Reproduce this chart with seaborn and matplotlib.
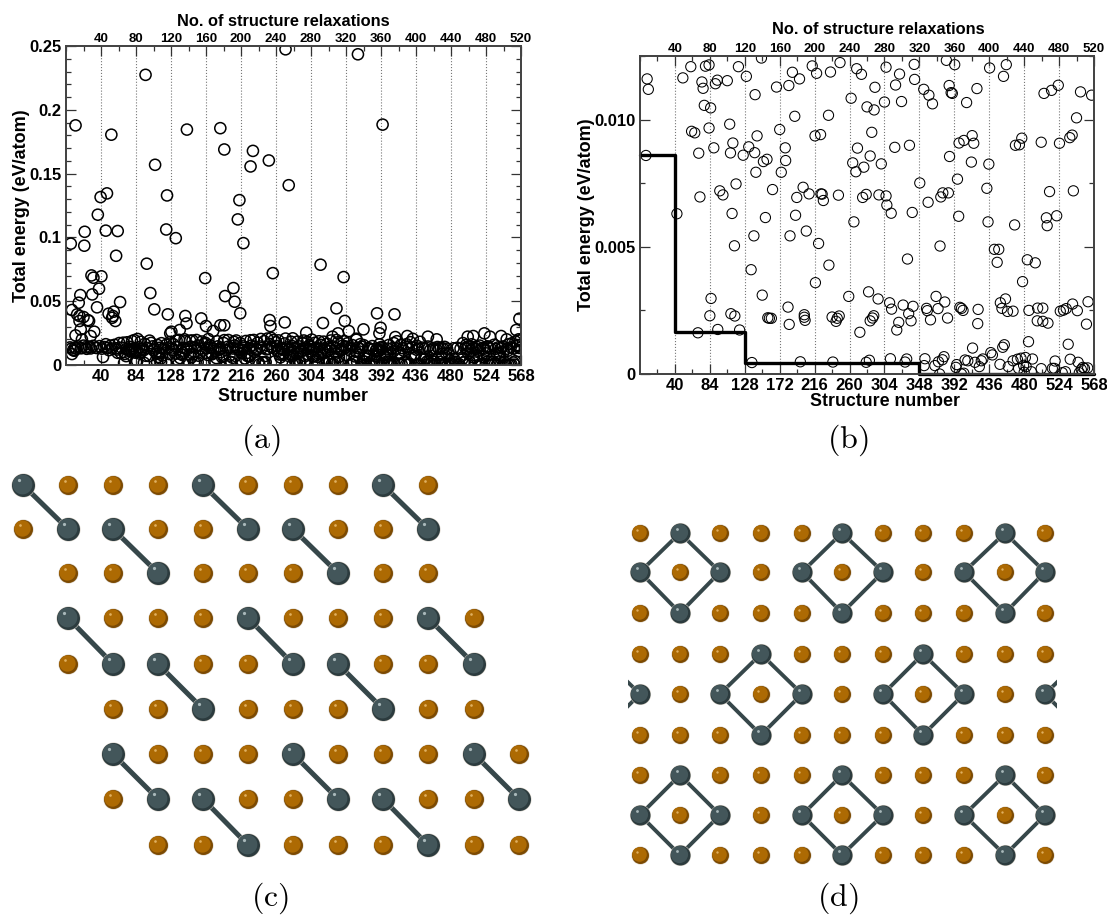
import matplotlib
matplotlib.use('Agg')
import numpy as np
import pandas as pd
import seaborn as sns
import matplotlib.pyplot as plt
from matplotlib.ticker import FixedLocator, MultipleLocator

# structures below 0.0125 eV/atom, these show up in both energy panels
low_x = [3.5, 5, 6.5, 42.5, 50, 60, 61, 65, 69, 70,
         71.5, 74, 75.5, 77, 78.5, 83, 83, 85, 84, 85.5,
         89, 91, 93.5, 94, 96.5, 100.5, 106, 109, 110, 110.5,
         112, 113, 115.5, 115, 117, 120, 121.5, 126, 130, 133,
         136, 137, 139.5, 140.5, 141, 142, 143.5, 149, 150, 151.5,
         156, 154, 157, 159, 161.5, 163, 168, 172, 174, 179,
         179.5, 182.5, 183.5, 184, 185, 188, 191, 192, 193.5, 197,
         198, 201.5, 203, 203, 204, 205.5, 209, 213, 216.5, 217,
         218.5, 221, 223.5, 224, 225.5, 227, 233.5, 234, 236, 238,
         239, 243, 244.5, 247, 246, 248, 259, 262, 264, 265.5,
         268, 269, 270, 273, 275, 276.5, 278, 281, 281, 282,
         284, 285, 286, 286, 288, 289, 290.5, 291, 292, 296,
         297, 300, 304, 306, 306, 307, 310.5, 311.5, 312.5, 313,
         317, 318, 319.5, 322, 323, 325.5, 327.5, 330, 332, 333,
         334.5, 335.5, 337.5, 339, 340, 341.5, 342, 348.5, 353.5, 354,
         355, 357, 358, 359, 360, 362, 364.5, 367.5, 369, 371.5,
         372, 373.5, 374, 375, 377.5, 377, 379, 380, 382, 383.5,
         384.5, 385.5, 386, 388, 389.5, 392.5, 394, 395, 396, 397.5,
         398, 399, 401, 403, 401, 404, 404, 405.5, 407.5, 409,
         413.5, 414.5, 415, 416.5, 418, 420.5, 421.5, 422, 423.5, 426,
         428, 433, 434.5, 435.5, 436.5, 438, 440, 442.5, 448, 446,
         449.5, 450, 452, 453, 454, 455, 456.5, 457.5, 459, 460,
         466, 466, 468, 469, 471.5, 473, 474, 477, 478, 476,
         479.3, 481.5, 482.5, 480, 484, 485.5, 486, 489, 490.5, 494,
         496.5, 497, 501.5, 501.5, 503.5, 503.5, 505, 508, 509, 510,
         514.5, 512, 515.5, 518, 519, 521, 523, 524.5, 525.5, 528,
         529.5, 532, 533, 535.5, 537.5, 538, 540.5, 541, 542, 547,
         546, 548, 551, 549.5, 552, 554, 556, 560, 558.5, 560.5,
         565]
low_y = [.00859, .01160, .01119, .00630, .01164, .01208, .00954, .00948, .00162, .00868,
         .00696, .01148, .01123, .01056, .01210, .01215, .00967, .01046, .00229, .00297,
         .00889, .01141, .01155, .00175, .00720, .00704, .01153, .00982, .00869, .00237,
         .00631, .00908, .00228, .00504, .00747, .01208, .00173, .00860, .01170, .00893,
         .00410, .00045, .00543, .00870, .01098, .00793, .00936, .01242, .00310, .00835,
         .00844, .00615, .00221, .00219, .00219, .00725, .01128, .00961, .00793, .00889,
         .00839, .00263, .01134, .00195, .00543, .01186, .01013, .00624, .00694, .01160,
         .00048, .00734, .00233, .00223, .00211, .00562, .00708, .01211, .00936, .00359,
         .01182, .00513, .00941, .00708, .00707, .00682, .01017, .00428, .01187, .00224,
         .00047, .00207, .00219, .00228, .00703, .01224, .00305, .01084, .00830, .00598,
         .00795, .01200, .00888, .00164, .01178, .00694, .00813, .00706, .00046, .01050,
         .00323, .00054, .00857, .00209, .00950, .00220, .00229, .01038, .01127, .00295,
         .00704, .00826, .01069, .00700, .01206, .00664, .00280, .00060, .00632, .00255,
         .00891, .01136, .00173, .00203, .01179, .01071, .00271, .00047, .00059, .00452,
         .00237, .00899, .00209, .00635, .00266, .01217, .01158, .00751, .01119, .00033,
         .00060, .00258, .00249, .00675, .01096, .00213, .01062, .00033, .00305, .00257,
         .00048, 0, .00503, .00696, .00712, .00056, .00068, .00283, .01233, .00220,
         .00712, .01134, .00855, .01106, .01103, .01216, .00026, .00037, .00766, .00620,
         .00908, .00262, .00258, .00250, 0, .00003, .00918, .00055, .01067, .00052,
         .00833, .00937, .00102, .00907, .00046, .01122, .00198, .00254, .00029, .00052,
         .00059, .00730, .00598, .00825, .01203, .00084, .00075, .00490, .00490, .00439,
         .00038, .00280, .00258, .00105, .01170, .00115, .00295, .01216, .00246, .00029,
         .00247, .00052, .00586, .00899, .00058, .00022, .00901, .00927, .00363, .00062,
         .00034, .00065, .00029, .00007, .00449, .00127, .00250, .00009, .00059, .00437,
         .00209, .00259, .00021, .00911, .00259, .00207, .01103, .00614, .00583, .00200,
         .01115, .00717, .00022, .00022, .00051, .00622, .01135, .00907, .00247, .00005,
         .00251, .00009, .00257, .00117, .00929, .00058, .00939, .00275, .00720, .00249,
         .01007, .00046, .01109, .00005, .00018, .00026, .00022, .00024, .00196, .00284,
         .01096]

# the crowded band just above that range, only visible in panel (a)
band_x = [1, 3, 7, 9, 11, 15, 18, 20, 22, 25,
          27, 30, 33, 35, 38, 41, 44, 46, 48, 52,
          54, 57, 59, 63, 66, 68, 72, 73, 76, 79,
          81, 82, 86, 88, 90, 92, 95, 98, 101, 103,
          105, 107, 111, 114, 116, 118, 122, 125, 127, 129,
          131, 134, 135, 138, 144, 146, 147, 152, 153, 155,
          158, 160, 162, 165, 167, 170, 171, 173, 175, 177,
          178, 181, 186, 187, 189, 190, 194, 195, 199, 200,
          202, 206, 207, 208, 210, 211, 212, 215, 219, 220,
          222, 226, 228, 229, 231, 232, 235, 237, 240, 241,
          242, 245, 249, 250, 252, 254, 255, 257, 258, 260,
          261, 263, 266, 267, 271, 272, 274, 277, 279, 280,
          283, 287, 289, 293, 294, 295, 298, 299, 301, 302,
          303, 305, 308, 309, 311, 314, 315, 316, 320, 321,
          324, 326, 328, 329, 331, 335, 336, 338, 343, 344,
          345, 347, 349, 350, 352, 356, 361, 363, 365, 366,
          368, 370, 376, 378, 381, 387, 390, 391, 393, 400,
          402, 406, 408, 411, 412, 417, 419, 424, 425, 427,
          429, 431, 432, 437, 439, 441, 444, 447, 451, 458,
          461, 463, 465, 467, 470, 472, 475, 483, 488, 492,
          495, 498, 499, 500, 502, 506, 507, 511, 513, 516,
          520, 522, 526, 527, 530, 534, 536, 539, 543, 545,
          550, 553, 555, 557, 559, 561, 563, 564, 566, 567]
band_y = [.0138, .0129, .0136, .0128, .0145, .0131, .0152, .0138, .0127, .0142,
          .0130, .0150, .0135, .0133, .0148, .0128, .0141, .0163, .0134, .0152,
          .0129, .0158, .0131, .0172, .0136, .0175, .0127, .0178, .0142, .0188,
          .0131, .0195, .0204, .0139, .0182, .0128, .0165, .0133, .0191, .0173,
          .0146, .0129, .0157, .0135, .0171, .0128, .0158, .0137, .0181, .0129,
          .0163, .0141, .0193, .0197, .0133, .0186, .0128, .0191, .0144, .0192,
          .0136, .0196, .0152, .0129, .0184, .0163, .0175, .0131, .0203, .0155,
          .0137, .0128, .0186, .0146, .0130, .0128, .0173, .0195, .0142, .0196,
          .0134, .0129, .0182, .0153, .0192, .0137, .0127, .0171, .0146, .0133,
          .0188, .0129, .0194, .0152, .0139, .0196, .0128, .0174, .0145, .0204,
          .0133, .0186, .0207, .0128, .0165, .0212, .0141, .0195, .0130, .0178,
          .0147, .0193, .0134, .0128, .0169, .0207, .0138, .0127, .0182, .0149,
          .0133, .0183, .0146, .0129, .0171, .0192, .0137, .0181, .0128, .0155,
          .0143, .0199, .0127, .0174, .0134, .0186, .0128, .0158, .0183, .0131,
          .0167, .0139, .0127, .0192, .0146, .0133, .0196, .0178, .0128, .0152,
          .0186, .0137, .0143, .0171, .0129, .0156, .0198, .0135, .0128, .0163,
          .0142, .0156, .0133, .0127, .0148, .0129, .0162, .0136, .0141, .0128,
          .0157, .0131, .0172, .0129, .0186, .0158, .0132, .0163, .0143, .0127,
          .0179, .0137, .0205, .0151, .0128, .0182, .0136, .0129, .0145, .0133,
          .0128, .0141, .0127, .0136, .0129, .0142, .0128, .0131, .0135, .0128,
          .0172, .0134, .0157, .0128, .0146, .0162, .0130, .0127, .0141, .0152,
          .0133, .0128, .0146, .0136, .0129, .0158, .0127, .0137, .0131, .0144,
          .0128, .0163, .0138, .0171, .0129, .0184, .0147, .0156, .0133, .0192]

# the scattered high energy structures of panel (a)
high_x = [2, 3.5, 8, 8, 10, 13, 13, 14.5, 12, 14,
          19.5, 19, 18, 16, 23.5, 25, 28, 30.5, 29, 27,
          31.5, 35, 36, 37.5, 39.5, 40.5, 46, 47.5, 49.5, 53,
          55, 56, 54, 58, 59, 61, 64, 96, 97.5, 102,
          108, 107, 122, 123, 124, 127, 128.5, 134, 139, 146,
          147.5, 148, 145, 166, 171, 172, 181, 190, 190, 195,
          195, 196, 206.5, 208, 212, 214, 215, 219, 228, 231,
          251, 252, 253, 256, 271, 272, 276, 281, 298, 316,
          319, 331, 336, 338, 345, 346.5, 351.5, 363, 361, 370,
          387, 391.5, 390, 394, 409, 410, 425, 451, 462, 501,
          508, 522, 529, 543, 550, 562, 566, 565]
high_y = [.0951, .0431, .1878, .0232, .0397, .0384, .0345, .0279, .0488, .0548,
          .1044, .0935, .0376, .0201, .0352, .0345, .0702, .0684, .0553, .0227,
          .0261, .0452, .1178, .0598, .1316, .0695, .1053, .1345, .0402, .1805,
          .0384, .0418, .0370, .0345, .0856, .1050, .0493, .2274, .0794, .0564,
          .1569, .0436, .1062, .1329, .0397, .0248, .0261, .0994, .0274, .0384,
          .0326, .1845, .0201, .0365, .0681, .0305, .0266, .0311, .1856, .0311,
          .1689, .0540, .0603, .0496, .1141, .1292, .0405, .0955, .1556, .1678,
          .1603, .0352, .0305, .0720, .0334, .2474, .1409, .0209, .0253, .0786,
          .0329, .0222, .0444, .0248, .0689, .0345, .0266, .2435, .0206, .0279,
          .0405, .0292, .0248, .1884, .0397, .0219, .0227, .0222, .0201, .0222,
          .0227, .0248, .0222, .0227, .0201, .0274, .0363, .0201]

# running minimum in panel (b)
best_x = [-4, 40, 128, 348, 568]
best_y = [.0086, .00167, .00045, 0, 0]

bottom_ticks = [40, 84, 128, 172, 216, 260, 304, 348, 392, 436, 480, 524, 568]
bottom_minor = [18, 62, 106, 150, 194, 238, 282, 326, 370, 414, 458, 502, 546]
top_ticks = [40, 80, 120, 160, 200, 240, 280, 320, 360, 400, 440, 480, 520]

# atom lattices, o = copper coloured atom, d = dark atom, . = nothing there
c_cols = [23, 68, 113, 158, 203, 248, 293, 338, 383, 428, 474, 519]
c_row_y = [485, 529, 573, 618, 664, 709, 754, 799, 845]
c_rows = ['dooodooodo..', 'oddooddood..', '.oodooodoo..',
          '.dooodooodo.', '.oddooddood.', '..oodooodoo.',
          '..dooodooodo', '..oddooddood', '...oodooodoo']

d_cols = [599, 640, 680, 720, 761, 802, 842, 883, 923, 964, 1005, 1045, 1086]
d_row_y = [533, 572, 613, 654, 694, 735, 775, 815, 855]
d_rows = ['.odooodooodo.', '.dododododod.', '.odooodooodo.',
          'dooodooodoood', '.dododododod.', 'dooodooodoood',
          '.odooodooodo.', '.dododododod.', '.odooodooodo.']

sns.set_style('ticks')
plt.rcParams['font.family'] = ['Liberation Sans', 'DejaVu Sans']
plt.rcParams['font.weight'] = 'bold'
plt.rcParams['axes.labelweight'] = 'bold'
plt.rcParams['mathtext.fontset'] = 'cm'
plt.rcParams['text.color'] = 'black'
plt.rcParams['axes.labelcolor'] = 'black'
plt.rcParams['xtick.color'] = 'black'
plt.rcParams['ytick.color'] = 'black'

W, H = 1107, 915
fig = plt.figure(figsize=(W / 100, H / 100), dpi=100)


def px_axes(left, right, top, bottom):
    return fig.add_axes([left / W, 1 - bottom / H, (right - left) / W, (bottom - top) / H])


def energy_axes(box, ylim, yticks, ylabels, yminor, size, x, y, edge_lw, title_x, xlabel_x, xlabel_pad, title_pad):
    ax = px_axes(*box)
    sns.scatterplot(x=x, y=y, ax=ax, s=size, marker='o', facecolors='none',
                    edgecolor='black', linewidth=edge_lw, zorder=3)
    ax.set_xlim(-4, 568)
    ax.set_ylim(*ylim)
    ax.set_xticks(bottom_ticks)
    ax.set_xticklabels(bottom_ticks, fontsize=12, fontweight='bold')
    ax.xaxis.set_minor_locator(FixedLocator(bottom_minor))
    ax.set_yticks(yticks)
    ax.set_yticklabels(ylabels, fontsize=12, fontweight='bold')
    ax.yaxis.set_minor_locator(MultipleLocator(yminor))
    ax.tick_params(which='major', direction='in', length=7, width=0.9, right=True,
                   color='#333333', pad=3)
    ax.tick_params(which='minor', direction='in', length=3.5, width=0.9, right=True,
                   color='#333333')
    ax.grid(axis='x', which='major', color='#777777', linestyle=':', linewidth=0.8)
    ax.set_xlabel('Structure number', fontsize=12.8, fontweight='bold', labelpad=xlabel_pad, x=xlabel_x)
    ax.set_ylabel('Total energy (eV/atom)', fontsize=13, fontweight='bold', labelpad=0)
    for s in ax.spines.values():
        s.set_linewidth(1.3)
        s.set_color('#444444')
        s.set_visible(True)

    top = ax.twiny()
    top.set_xlim(0, 520)
    top.set_xticks(top_ticks)
    top.set_xticklabels(top_ticks, fontsize=9.5, fontweight='bold')
    top.xaxis.set_minor_locator(MultipleLocator(20))
    top.tick_params(which='major', direction='in', length=7, width=0.9, color='#333333', pad=1)
    top.tick_params(which='minor', direction='in', length=3.5, width=0.9, color='#333333')
    top.set_xlabel('No. of structure relaxations', fontsize=11.8, fontweight='bold', labelpad=title_pad, x=title_x)
    for s in top.spines.values():
        s.set_linewidth(1.3)
        s.set_color('#444444')
    return ax


# panel a holds everything, panel b only the low end
all_x = high_x + band_x + low_x
all_y = high_y + band_y + low_y
energy_axes((66, 521, 46, 365), (0, 0.25), [0, 0.05, 0.1, 0.15, 0.2, 0.25],
            ['0', '0.05', '0.1', '0.15', '0.2', '0.25'], 0.01, 64,
            all_x, all_y, 1.1, 0.477, 0.5, 3, 5)

ax_b = energy_axes((640, 1094, 56, 374), (0, 0.0125), [0, 0.005, 0.010],
                   ['0', '0.005', '0.010'], 0.0025, 54,
                   low_x, low_y, 0.75, 0.526, 0.54, 0, 6.5)
best = pd.DataFrame({'x': best_x, 'y': best_y})
sns.lineplot(data=best, x='x', y='y', ax=ax_b, color='black', linewidth=2.4,
             drawstyle='steps-post', estimator=None, sort=False, zorder=4, clip_on=False)
ax_b.set_xlim(-4, 568)
ax_b.set_ylim(0, 0.0125)
ax_b.set_xlabel('Structure number', fontsize=12.8, fontweight='bold', labelpad=0, x=0.54)
ax_b.set_ylabel('Total energy (eV/atom)', fontsize=13, fontweight='bold', labelpad=0)


def draw_spheres(ax, x, y, dia, colors):
    # fake the shaded ball look with stacked circles
    base, mid, glint = colors
    x = np.array(x, dtype=float)
    y = np.array(y, dtype=float)
    pt = dia * 0.72
    rim = '#d8d2c8'
    sns.scatterplot(x=x, y=y, ax=ax, s=(pt + 0.8) ** 2, color=rim, linewidth=0, zorder=3, legend=False)
    sns.scatterplot(x=x, y=y, ax=ax, s=pt ** 2, color=base, linewidth=0, zorder=4, legend=False)
    sns.scatterplot(x=x - dia * 0.04, y=y - dia * 0.06, ax=ax, s=(pt * 0.86) ** 2, color=mid,
                    linewidth=0, zorder=5, legend=False)
    sns.scatterplot(x=x - dia * 0.17, y=y - dia * 0.2, ax=ax, s=(pt * 0.14) ** 2, color=glint,
                    linewidth=0, zorder=6, legend=False)


def lattice(box, cols, row_y, rows, steps, small, big, bond_lw):
    ax = px_axes(*box)
    ax.set_xlim(box[0], box[1])
    ax.set_ylim(box[3], box[2])
    ax.axis('off')
    ox, oy, dx, dy = [], [], [], []
    for r, row in enumerate(rows):
        for c, kind in enumerate(row):
            if kind == 'o':
                ox.append(cols[c])
                oy.append(row_y[r])
            elif kind == 'd':
                dx.append(cols[c])
                dy.append(row_y[r])
                if r + 1 < len(rows):
                    for st in steps:
                        if 0 <= c + st < len(row) and rows[r + 1][c + st] == 'd':
                            ax.plot([cols[c], cols[c + st]], [row_y[r], row_y[r + 1]],
                                    color='#36474a', linewidth=bond_lw, zorder=2,
                                    solid_capstyle='butt')
    draw_spheres(ax, ox, oy, small, ('#7c4a02', '#ad6a03', '#e0b060'))
    draw_spheres(ax, dx, dy, big, ('#2c3b3e', '#43565a', '#a9b8ba'))
    ax.set_xlim(box[0], box[1])
    ax.set_ylim(box[3], box[2])
    return ax


lattice((0, 560, 460, 870), c_cols, c_row_y, c_rows, [1], 19, 23, 3.6)
lattice((628, 1057, 515, 872), d_cols, d_row_y, d_rows, [-1, 1], 17, 20, 2.8)

for label, cx, cy in [('(a)', 261, 440), ('(b)', 848, 440), ('(c)', 270, 898), ('(d)', 838, 898)]:
    fig.text(cx / W, 1 - cy / H, r'$\mathrm{' + label + '}$', fontsize=23, ha='center', va='center')

fig.savefig('out.png', dpi=100, facecolor='white')
